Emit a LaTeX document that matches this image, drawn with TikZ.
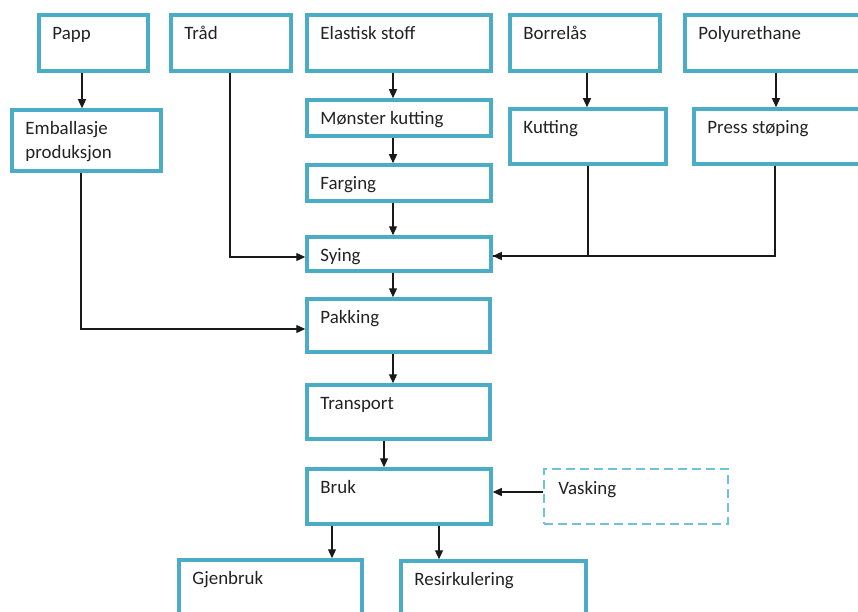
\documentclass[tikz,border=0pt]{standalone}
\usepackage{fontspec}
\setmainfont{Carlito}
\usetikzlibrary{arrows.meta}

\definecolor{boxblue}{HTML}{4BACC6}
\definecolor{dashblue}{HTML}{6CC3DA}
\definecolor{txtgray}{HTML}{222222}

\tikzset{
  box/.style={draw=boxblue, line width=3.5pt, inner sep=0pt},
  dbox/.style={draw=dashblue, line width=1.6pt, dash pattern=on 9pt off 5pt, inner sep=0pt},
  lbl/.style={anchor=base west, inner sep=0pt, align=left, text=txtgray,
    font=\fontsize{18.9}{24}\selectfont, xshift=15pt, yshift=-26pt},
  txt/.style={label={[lbl]north west:#1}},
  line/.style={line width=1.2pt, draw=black!90},
  arr/.style={line, -{Triangle[length=9pt,width=8pt]}},
}

\begin{document}
\begin{tikzpicture}[x=1pt, y=-1pt]
\useasboundingbox (0,0) rectangle (858,612);
\clip (0,0) rectangle (858,612);

% raw materials
\node[box, minimum width=109, minimum height=56, txt=Papp] (papp) at (93.5,43) {};
\node[box, minimum width=120, minimum height=56, txt=Tråd] (trad) at (231,43) {};
\node[box, minimum width=184, minimum height=56, txt=Elastisk stoff] (elast) at (399,43) {};
\node[box, minimum width=150, minimum height=56, txt=Borrelås] (borre) at (585,43) {};
\node[box, minimum width=195, minimum height=56, txt=Polyurethane] (poly) at (782.5,43) {};

% first processing steps
\node[box, minimum width=149, minimum height=61,
  label={[lbl, yshift=-24pt]north west:{Emballasje\\produksjon}}] (emb) at (86.5,140.5) {};
\node[box, minimum width=184, minimum height=36, txt=Mønster kutting] (monster) at (399,118) {};
\node[box, minimum width=156, minimum height=55, txt=Kutting] (kutt) at (588,136.5) {};
\node[box, minimum width=186, minimum height=55, txt=Press støping] (press) at (787,136.5) {};
\node[box, minimum width=184, minimum height=36, txt=Farging] (farg) at (399,183) {};

% main line
\node[box, minimum width=184, minimum height=34, txt=Sying] (sying) at (399,254) {};
\node[box, minimum width=183, minimum height=53, txt=Pakking] (pakk) at (398.5,325.5) {};
\node[box, minimum width=183, minimum height=54, txt=Transport] (transp) at (398.5,412) {};
\node[box, minimum width=184, minimum height=55, txt=Bruk] (bruk) at (399,496.5) {};
\node[dbox, minimum width=184, minimum height=55, txt=Vasking] (vask) at (636,496.5) {};

% end of life
\node[box, minimum width=183, minimum height=80, txt=Gjenbruk] (gjen) at (270.5,600) {};
\node[box, minimum width=185, minimum height=79, txt=Resirkulering] (resirk) at (493.5,600.5) {};

% arrows
\draw[arr] ([xshift=-11.5]papp.south) -- ([xshift=-4.5]emb.north);
\draw[arr] ([xshift=-6]elast.south) -- ([xshift=-6]monster.north);
\draw[arr] ([xshift=-6]monster.south) -- ([xshift=-6]farg.north);
\draw[arr] ([xshift=-6]farg.south) -- ([xshift=-6]sying.north);
\draw[arr] ([xshift=-6]sying.south) -- ([xshift=-5.5]pakk.north);
\draw[arr] ([xshift=-5.5]pakk.south) -- ([xshift=-5.5]transp.north);
\draw[arr] ([xshift=-14.5]transp.south) -- ([xshift=-15]bruk.north);
\draw[arr] ([xshift=2]borre.south) -- ([xshift=-1]kutt.north);
\draw[arr] ([xshift=-6.5]poly.south) -- ([xshift=-11]press.north);

\draw[arr] ([xshift=-1]trad.south) |- ([yshift=-3]sying.west);
\draw[arr] ([xshift=-5.5]emb.south) |- ([yshift=-3.5]pakk.west);
\draw[line] (kutt.south) |- ([yshift=-2]sying.east);
\draw[arr] ([xshift=-12]press.south) |- ([yshift=-2]sying.east);

\draw[arr] ([yshift=4.5]vask.west) -- ([yshift=4.5]bruk.east);
\draw[arr] ([xshift=-67]bruk.south) -- ([xshift=61.5]gjen.north);
\draw[arr] ([xshift=40]bruk.south) -- ([xshift=-54.5]resirk.north);
\end{tikzpicture}
\end{document}
